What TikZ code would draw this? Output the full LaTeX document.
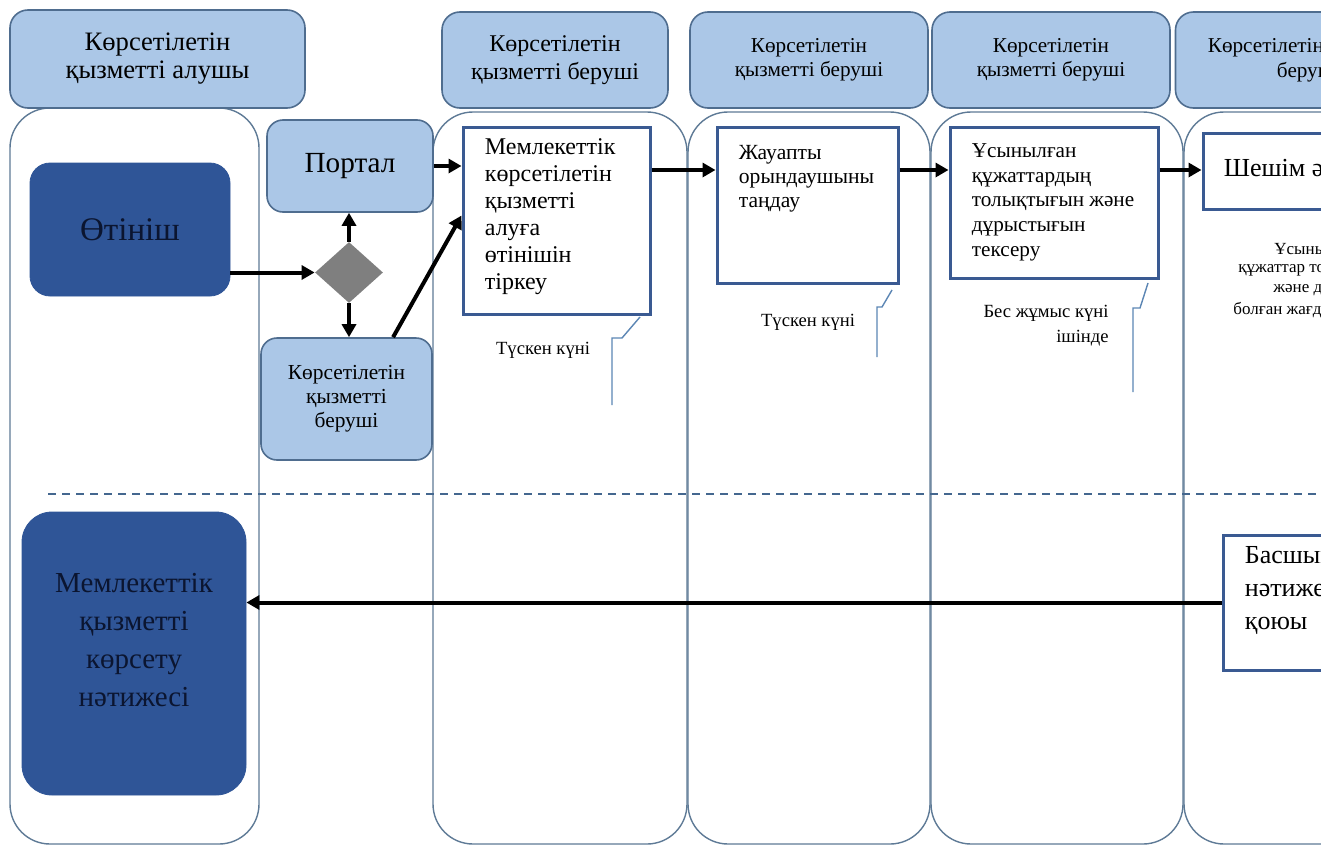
\documentclass[tikz,border=0pt]{standalone}
\usepackage{fontspec}
\setmainfont{Liberation Serif}
\usepackage{tikz}
\usetikzlibrary{calc,arrows.meta,shapes.geometric}
\definecolor{hdrfill}{HTML}{ABC7E7}
\definecolor{hdrline}{HTML}{4F6D8F}
\definecolor{darkfill}{HTML}{2F5597}
\definecolor{darktext}{HTML}{0B1530}
\definecolor{laneline}{HTML}{5E7A96}
\definecolor{taskline}{HTML}{3A5A92}
\definecolor{noteline}{HTML}{5C86B4}
\definecolor{gatefill}{HTML}{7F7F7F}
\definecolor{dashline}{HTML}{44678F}
\tikzset{
  lane/.style={draw=laneline, line width=0.7pt, rounded corners=20pt},
  hdr/.style={draw=hdrline, fill=hdrfill, line width=0.8pt, rounded corners=9pt, align=center, inner sep=0pt},
  lite/.style={draw=hdrline, fill=hdrfill, line width=0.8pt, rounded corners=8pt, align=center, inner sep=0pt},
  dark/.style={draw=darkfill, fill=darkfill, rounded corners=11pt, align=center, text=darktext, inner sep=0pt},
  task/.style={draw=taskline, fill=white, line width=1.5pt, inner sep=0pt},
  tasktxt/.style={anchor=north west, align=left, inner sep=0pt},
  gate/.style={diamond, fill=gatefill, inner sep=0pt, aspect=1},
  flow/.style={draw=black, line width=2pt, -{Triangle[length=6.5pt,width=7pt]}},
  callout/.style={draw=noteline, line width=0.7pt},
  note/.style={font=\fontsize{9.3}{12.5}\selectfont, inner sep=0pt},
  sep/.style={draw=dashline, line width=0.7pt, dash pattern=on 4pt off 3pt},
}
\begin{document}
\begin{tikzpicture}[x=0.5pt, y=-0.5pt]
  \useasboundingbox (0,0) rectangle (1321,846);
  \clip (0,0) rectangle (1321,846);
  \fill[white] (0,0) rectangle (1321,846);
  \coordinate (toprow) at (0,170);

  % lanes
  \draw[lane] (10,108) rectangle (259,844);
  \foreach \xa/\xb in {433/687,688/930,931/1183,1184/1450}
    \draw[lane] (\xa,112) rectangle (\xb,844);
  \draw[sep] (48,494) -- (1321,494);

  % headers
  \node[hdr, minimum width=147.5pt, minimum height=49pt, font=\fontsize{13.3}{14}\selectfont] (hRecv) at (157.5,59) {Көрсетілетін\\қызметті алушы};
  \node[hdr, minimum width=113pt, minimum height=48pt, font=\fontsize{12}{14}\selectfont] (hProvA) at (555,60) {Көрсетілетін\\қызметті беруші};
  \node[hdr, minimum width=119pt, minimum height=48pt, font=\fontsize{10.6}{12}\selectfont] (hProvB) at (809,60) {Көрсетілетін\\қызметті беруші};
  \node[hdr, minimum width=119pt, minimum height=48pt, font=\fontsize{10.6}{12}\selectfont] (hProvC) at (1051,60) {Көрсетілетін\\қызметті беруші};
  \node[hdr, minimum width=133pt, minimum height=48pt, font=\fontsize{10.6}{12.5}\selectfont] (hProvD) at (1308.5,60) {Көрсетілетін қызметті\\беруші};

  % receiver column
  \node[dark, minimum width=100pt, minimum height=66.5pt, rounded corners=10pt, font=\fontsize{16.5}{18}\selectfont] (app) at (130,229.5) {Өтініш};
  \node[dark, minimum width=112pt, minimum height=141.5pt, rounded corners=15pt, text depth=14pt, font=\fontsize{14.5}{19}\selectfont] (res) at (134,653.5) {Мемлекеттік\\қызметті\\көрсету\\нәтижесі};

  \node[lite, minimum width=83pt, minimum height=46pt, font=\fontsize{14.6}{16}\selectfont] (portal) at (350,166) {Портал};
  \node[lite, minimum width=85.5pt, minimum height=61pt, font=\fontsize{10.7}{12}\selectfont] (prov) at (346.5,399) {Көрсетілетін\\қызметті\\беруші};
  \node[gate, minimum width=34pt, minimum height=30.5pt] (gw) at (349,272.5) {};

  % tasks
  \node[task, minimum width=93.5pt, minimum height=93.5pt] (reg) at (556.5,220.5) {};
  \node[tasktxt, font=\fontsize{12}{13.5}\selectfont] (regTxt) at ($(reg.north west)+(23,13)$) {Мемлекеттік\\көрсетілетін\\қызметті\\алуға\\өтінішін\\тіркеу};
  \node[task, minimum width=90.5pt, minimum height=78pt] (sel) at (807.5,205) {};
  \node[tasktxt, font=\fontsize{10.8}{12}\selectfont] (selTxt) at ($(sel.north west)+(23,19)$) {Жауапты\\орындаушыны\\таңдау};
  \node[task, minimum width=104pt, minimum height=75.5pt] (chk) at (1054,202.5) {};
  \node[tasktxt, font=\fontsize{10.6}{12.3}\selectfont] (chkTxt) at ($(chk.north west)+(23,18)$) {Ұсынылған\\құжаттардың\\толықтығын және\\дұрыстығын\\тексеру};
  \node[task, minimum width=98.5pt, minimum height=38pt] (dec) at (1301.5,171) {};
  \node[anchor=west, inner sep=0pt, font=\fontsize{13}{14}\selectfont] (decTxt) at ($(dec.west)+(22,0)$) {Шешім әзірлеу};
  \node[task, minimum width=98.5pt, minimum height=67.5pt] (head) at (1321.5,602.5) {};
  \node[tasktxt, font=\fontsize{13}{16.5}\selectfont] (headTxt) at ($(head.north west)+(23,13)$) {Басшының\\нәтижеге қол\\қоюы};

  % deadlines
  \draw[callout] (612,405) -- (612,338) -- (622,338) -- (640,317);
  \node[note] (regNote) at (543,350) {Түскен күні};
  \draw[callout] (877,357) -- (877,307) -- (882,307) -- (892,290);
  \node[note] (selNote) at (808,322) {Түскен күні};
  \draw[callout] (1133,392) -- (1133,308) -- (1140,308) -- (1148,283);
  \node[note, align=right, anchor=east] (chkNote) at (1109,326) {Бес жұмыс күні\\ішінде};
  \foreach \tx/\lx/\ly [count=\i] in {Ұсынылған/1274/249, құжаттар толық/1238/270, және дұрыс/1273/290, болған жағдайда/1233/310}
    \node[inner sep=0pt, anchor=west, font=\fontsize{8.5}{10}\selectfont] (decNote\i) at (\lx,\ly) {\tx};

  % flows
  \draw[flow] (app.east |- gw.west) -- (gw.west);
  \draw[flow] (gw.north) -- (gw.north |- portal.south);
  \draw[flow] (gw.south) -- (gw.south |- prov.north);
  \draw[flow] (prov.53) -- (reg.177);
  \draw[flow] (portal.east) -- (portal.east -| reg.west);
  \draw[flow] (reg.east |- toprow) -- (sel.west |- toprow);
  \draw[flow] (sel.east |- toprow) -- (chk.west |- toprow);
  \draw[flow] (chk.east |- toprow) -- (dec.west |- toprow);
  \draw[flow] (head.west) -- (head.west -| res.east);
\end{tikzpicture}
\end{document}
